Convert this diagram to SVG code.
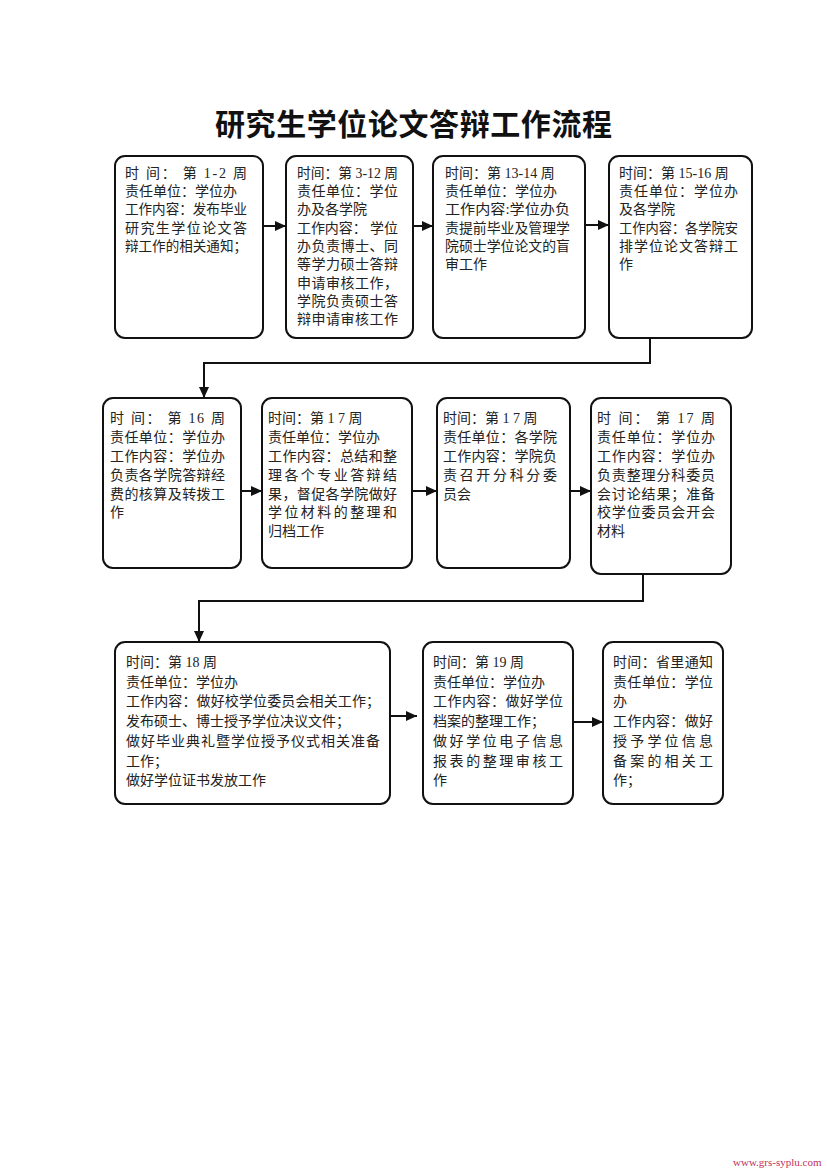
<svg xmlns="http://www.w3.org/2000/svg" width="827" height="1170" viewBox="0 0 827 1170">
<style>
.box{fill:#fff;stroke:#111;stroke-width:2}
.t{font-family:"Liberation Serif","Noto Sans CJK SC",serif;font-size:14px;fill:#222}
.title{font-family:"Liberation Serif","Noto Sans CJK SC",serif;font-size:30px;font-weight:bold;fill:#111}
.wm{font-family:"Liberation Serif",serif;font-size:11px;fill:#c0305a}
.con{fill:none;stroke:#111;stroke-width:2}
</style>
<defs>
<marker id="ah" markerUnits="userSpaceOnUse" markerWidth="11" markerHeight="10" refX="11" refY="5" orient="auto">
<path d="M0,0 L11,5 L0,10 z" fill="#111"/>
</marker>
</defs>
<rect width="827" height="1170" fill="#fff"/>
<text class="title" x="215" y="135" textLength="397" lengthAdjust="spacing">研究生学位论文答辩工作流程</text>

<g id="node1">
<rect class="box" x="115" y="156" width="148" height="182" rx="10"/>
<text class="t" x="125" y="178" textLength="122" lengthAdjust="spacing">时 间： 第 1-2 周</text>
<text class="t" x="125" y="196">责任单位：学位办</text>
<text class="t" x="125" y="214" textLength="122" lengthAdjust="spacingAndGlyphs">工作内容：发布毕业</text>
<text class="t" x="125" y="233" textLength="122" lengthAdjust="spacing">研究生学位论文答</text>
<text class="t" x="125" y="251" textLength="122" lengthAdjust="spacingAndGlyphs">辩工作的相关通知；</text>
</g>

<g id="node2">
<rect class="box" x="286" y="156" width="127" height="182" rx="10"/>
<text class="t" x="297" y="178" textLength="101" lengthAdjust="spacingAndGlyphs">时间：第 3-12 周</text>
<text class="t" x="297" y="196" textLength="101" lengthAdjust="spacing">责任单位：学位</text>
<text class="t" x="297" y="214">办及各学院</text>
<text class="t" x="297" y="233" textLength="101" lengthAdjust="spacing">工作内容： 学位</text>
<text class="t" x="297" y="251" textLength="101" lengthAdjust="spacing">办负责博士、同</text>
<text class="t" x="297" y="269" textLength="101" lengthAdjust="spacing">等学力硕士答辩</text>
<text class="t" x="297" y="288" textLength="101" lengthAdjust="spacing">申请审核工作，</text>
<text class="t" x="297" y="306" textLength="101" lengthAdjust="spacing">学院负责硕士答</text>
<text class="t" x="297" y="324" textLength="101" lengthAdjust="spacing">辩申请审核工作</text>
</g>

<g id="node3">
<rect class="box" x="433" y="156" width="152" height="182" rx="10"/>
<text class="t" x="445" y="178">时间：第 13-14 周</text>
<text class="t" x="445" y="196">责任单位：学位办</text>
<text class="t" x="445" y="214" textLength="125" lengthAdjust="spacingAndGlyphs">工作内容:学位办负</text>
<text class="t" x="445" y="233" textLength="125" lengthAdjust="spacingAndGlyphs">责提前毕业及管理学</text>
<text class="t" x="445" y="251" textLength="125" lengthAdjust="spacingAndGlyphs">院硕士学位论文的盲</text>
<text class="t" x="445" y="269">审工作</text>
</g>

<g id="node4">
<rect class="box" x="609" y="156" width="143" height="182" rx="10"/>
<text class="t" x="619" y="178">时间：第 15-16 周</text>
<text class="t" x="619" y="196" textLength="119" lengthAdjust="spacing">责任单位：学位办</text>
<text class="t" x="619" y="214">及各学院</text>
<text class="t" x="619" y="233" textLength="119" lengthAdjust="spacingAndGlyphs">工作内容：各学院安</text>
<text class="t" x="619" y="251" textLength="119" lengthAdjust="spacing">排学位论文答辩工</text>
<text class="t" x="619" y="269">作</text>
</g>

<g id="node5">
<rect class="box" x="103" y="398" width="138" height="170" rx="10"/>
<text class="t" x="110" y="423" textLength="115" lengthAdjust="spacing">时 间： 第 16 周</text>
<text class="t" x="110" y="442" textLength="115" lengthAdjust="spacing">责任单位：学位办</text>
<text class="t" x="110" y="461" textLength="115" lengthAdjust="spacing">工作内容：学位办</text>
<text class="t" x="110" y="480" textLength="115" lengthAdjust="spacing">负责各学院答辩经</text>
<text class="t" x="110" y="499" textLength="115" lengthAdjust="spacing">费的核算及转拨工</text>
<text class="t" x="110" y="517">作</text>
</g>

<g id="node6">
<rect class="box" x="262" y="398" width="150" height="170" rx="10"/>
<text class="t" x="268" y="423">时间：第 1 7 周</text>
<text class="t" x="268" y="442">责任单位：学位办</text>
<text class="t" x="268" y="461" textLength="129" lengthAdjust="spacing">工作内容：总结和整</text>
<text class="t" x="268" y="480" textLength="129" lengthAdjust="spacing">理各个专业答辩结</text>
<text class="t" x="268" y="499" textLength="129" lengthAdjust="spacing">果，督促各学院做好</text>
<text class="t" x="268" y="517" textLength="129" lengthAdjust="spacing">学位材料的整理和</text>
<text class="t" x="268" y="536">归档工作</text>
</g>

<g id="node7">
<rect class="box" x="437" y="398" width="133" height="170" rx="10"/>
<text class="t" x="443" y="423">时间：第 1 7 周</text>
<text class="t" x="443" y="442" textLength="114" lengthAdjust="spacing">责任单位：各学院</text>
<text class="t" x="443" y="461" textLength="114" lengthAdjust="spacing">工作内容：学院负</text>
<text class="t" x="443" y="480" textLength="114" lengthAdjust="spacing">责召开分科分委</text>
<text class="t" x="443" y="499">员会</text>
</g>

<g id="node8">
<rect class="box" x="591" y="398" width="140" height="176" rx="10"/>
<text class="t" x="597" y="423" textLength="118" lengthAdjust="spacing">时 间： 第 17 周</text>
<text class="t" x="597" y="442" textLength="118" lengthAdjust="spacing">责任单位：学位办</text>
<text class="t" x="597" y="461" textLength="118" lengthAdjust="spacing">工作内容：学位办</text>
<text class="t" x="597" y="480" textLength="118" lengthAdjust="spacing">负责整理分科委员</text>
<text class="t" x="597" y="499" textLength="118" lengthAdjust="spacing">会讨论结果；准备</text>
<text class="t" x="597" y="517" textLength="118" lengthAdjust="spacing">校学位委员会开会</text>
<text class="t" x="597" y="536">材料</text>
</g>

<g id="node9">
<rect class="box" x="115" y="642" width="275" height="162" rx="10"/>
<text class="t" x="126" y="667">时间：第 18 周</text>
<text class="t" x="126" y="686.5">责任单位：学位办</text>
<text class="t" x="126" y="706" textLength="254" lengthAdjust="spacing">工作内容：做好校学位委员会相关工作；</text>
<text class="t" x="126" y="726">发布硕士、博士授予学位决议文件；</text>
<text class="t" x="126" y="746" textLength="254" lengthAdjust="spacing">做好毕业典礼暨学位授予仪式相关准备</text>
<text class="t" x="126" y="765.5">工作；</text>
<text class="t" x="126" y="785">做好学位证书发放工作</text>
</g>

<g id="node10">
<rect class="box" x="423" y="642" width="150" height="162" rx="10"/>
<text class="t" x="433" y="667">时间：第 19 周</text>
<text class="t" x="433" y="686.5">责任单位：学位办</text>
<text class="t" x="433" y="706" textLength="130" lengthAdjust="spacing">工作内容：做好学位</text>
<text class="t" x="433" y="726">档案的整理工作；</text>
<text class="t" x="433" y="746" textLength="130" lengthAdjust="spacing">做好学位电子信息</text>
<text class="t" x="433" y="765.5" textLength="130" lengthAdjust="spacing">报表的整理审核工</text>
<text class="t" x="433" y="785">作</text>
</g>

<g id="node11">
<rect class="box" x="603" y="642" width="120" height="162" rx="10"/>
<text class="t" x="613" y="667" textLength="100" lengthAdjust="spacing">时间：省里通知</text>
<text class="t" x="613" y="686.5" textLength="100" lengthAdjust="spacing">责任单位：学位</text>
<text class="t" x="613" y="706">办</text>
<text class="t" x="613" y="726" textLength="100" lengthAdjust="spacing">工作内容：做好</text>
<text class="t" x="613" y="746" textLength="100" lengthAdjust="spacing">授予学位信息</text>
<text class="t" x="613" y="765.5" textLength="100" lengthAdjust="spacing">备案的相关工</text>
<text class="t" x="613" y="785">作；</text>
</g>

<g id="connectors">
<line class="con" x1="263" y1="226" x2="286" y2="226" marker-end="url(#ah)"/>
<line class="con" x1="413" y1="226" x2="433" y2="226" marker-end="url(#ah)"/>
<line class="con" x1="585" y1="225" x2="609" y2="225" marker-end="url(#ah)"/>
<polyline class="con" points="650,338 650,363 204,363 204,398" marker-end="url(#ah)"/>
<line class="con" x1="241" y1="491" x2="262" y2="491" marker-end="url(#ah)"/>
<line class="con" x1="412" y1="491" x2="437" y2="491" marker-end="url(#ah)"/>
<line class="con" x1="570" y1="491" x2="591" y2="491" marker-end="url(#ah)"/>
<polyline class="con" points="643,574 643,601 199,601 199,642" marker-end="url(#ah)"/>
<line class="con" x1="391" y1="716" x2="417" y2="716" marker-end="url(#ah)"/>
<line class="con" x1="573" y1="722" x2="603" y2="722" marker-end="url(#ah)"/>
</g>

<text class="wm" x="733" y="1166">www.grs-syplu.com</text>
</svg>
